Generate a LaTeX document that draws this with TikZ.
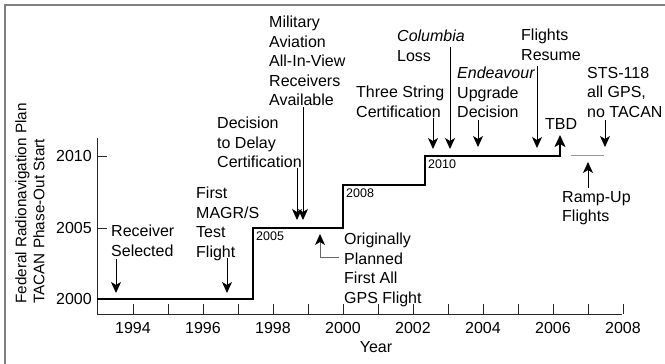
\documentclass[tikz,border=0pt]{standalone}
\usepackage{fontspec}
\setmainfont{Liberation Sans}
\usetikzlibrary{arrows.meta}
\tikzset{
  lbl/.style={anchor=north west, inner sep=0pt, align=left, font=\fontsize{16}{19.5}\selectfont},
  small/.style={anchor=north west, inner sep=0pt, font=\fontsize{12.5}{14}\selectfont},
  tick/.style={inner sep=0pt, font=\fontsize{16}{19}\selectfont},
  ptr/.style={line width=0.9pt, -{Stealth[length=11pt, width=10pt, inset=3pt, color=black]}},
  stepline/.style={line width=2pt, line join=miter},
  axisline/.style={line width=1pt, draw=black!85},
  frameline/.style={line width=2pt, draw=black!50},
}
\begin{document}
\begin{tikzpicture}[x=1pt, y=-1pt]
\useasboundingbox (0,0) rectangle (665,364);
% frame (only top and left visible)
\draw[frameline] (5,364) -- (5,5) -- (665,5);
% axes
\coordinate (ytop) at (97,138);
\coordinate (orig) at (97,314);
\coordinate (xend) at (622,314);
\draw[axisline] (ytop) -- (orig) -- (xend);
\foreach \yr in {1994,...,2008} {
  \draw[axisline] ({98+(\yr-1993)*35},314) -- ++(0,-10);
}
\foreach \yr in {1994,1996,...,2008} {
  \node[tick, anchor=north] at ({98+(\yr-1993)*35},322) {\yr};
}
\foreach \lv/\yy in {2000/299,2005/228,2010/156} {
  \draw[axisline] (97,\yy) -- ++(10,0);
  \node[tick, anchor=east] at (92,\yy) {\lv};
}
\node[tick, anchor=north] (xlab) at (376,341) {Year};
\node[tick, rotate=90, anchor=north west, align=left, font=\fontsize{15.3}{18}\selectfont] (ylab) at (15,304)
  {Federal Radionavigation Plan\\TACAN Phase-Out Start};
% step line
\draw[stepline, -{Stealth[length=12pt, width=11pt, inset=3pt]}]
  (97,299) -- (253,299) -- (253,228) -- (343,228) -- (343,185) -- (425,185) -- (425,156) -- (560,156) -- (560,135);
\node[small] (s2005) at (256,232) {2005};
\node[small] (s2008) at (346,189) {2008};
\node[small] (s2010) at (428,160) {2010};
% ramp-up gray line
\draw[line width=1pt, draw=black!40] (571,155) -- (604,155);
% labels
\node[lbl] (recv) at (111,225) {Receiver\\Selected};
\node[lbl] (magr) at (196,187) {First\\MAGR/S\\Test\\Flight};
\node[lbl] (deci) at (217,117) {Decision\\to Delay\\Certification};
\node[lbl] (mil) at (269,16) {Military\\Aviation\\All-In-View\\Receivers\\Available};
\node[lbl] (orig1) at (344,233) {Originally\\Planned\\First All\\GPS Flight};
\node[lbl] (three) at (356,86) {Three String\\Certification};
\node[lbl] (colu) at (397,30) {\itshape Columbia\\Loss};
\node[lbl] (ende) at (457,67) {\itshape Endeavour\\Upgrade\\Decision};
\node[lbl] (resu) at (521,29) {Flights\\Resume};
\node[lbl] (tbd) at (545,118) {TBD};
\node[lbl] (sts) at (587,67) {STS-118\\all GPS,\\no TACAN};
\node[lbl] (ramp) at (562,191) {Ramp-Up\\Flights};
% arrows
\coordinate (a1s) at (116,259); \coordinate (a1e) at (116,293);
\coordinate (a2s) at (227,258); \coordinate (a2e) at (227,293);
\coordinate (a3s) at (297,168); \coordinate (a3e) at (297,220);
\coordinate (a4s) at (303,107); \coordinate (a4e) at (303,220);
\coordinate (a5s) at (339,257); \coordinate (a5m) at (320,257); \coordinate (a5e) at (320,234);
\coordinate (a6s) at (433,118); \coordinate (a6e) at (433,149);
\coordinate (a7s) at (450,47);  \coordinate (a7e) at (450,149);
\coordinate (a8s) at (478,120); \coordinate (a8e) at (478,147);
\coordinate (a9s) at (537,66);  \coordinate (a9e) at (537,148);
\coordinate (a10s) at (605,120); \coordinate (a10e) at (605,147);
\coordinate (a11s) at (588,188); \coordinate (a11e) at (588,162);
\draw[ptr] (a1s) -- (a1e);
\draw[ptr] (a2s) -- (a2e);
\draw[ptr] (a3s) -- (a3e);
\draw[ptr] (a4s) -- (a4e);
\draw[ptr, draw=black!60] (a5s) -- (a5m) -- (a5e);
\draw[ptr] (a6s) -- (a6e);
\draw[ptr] (a7s) -- (a7e);
\draw[ptr] (a8s) -- (a8e);
\draw[ptr] (a9s) -- (a9e);
\draw[ptr] (a10s) -- (a10e);
\draw[ptr] (a11s) -- (a11e);
\end{tikzpicture}
\end{document}
